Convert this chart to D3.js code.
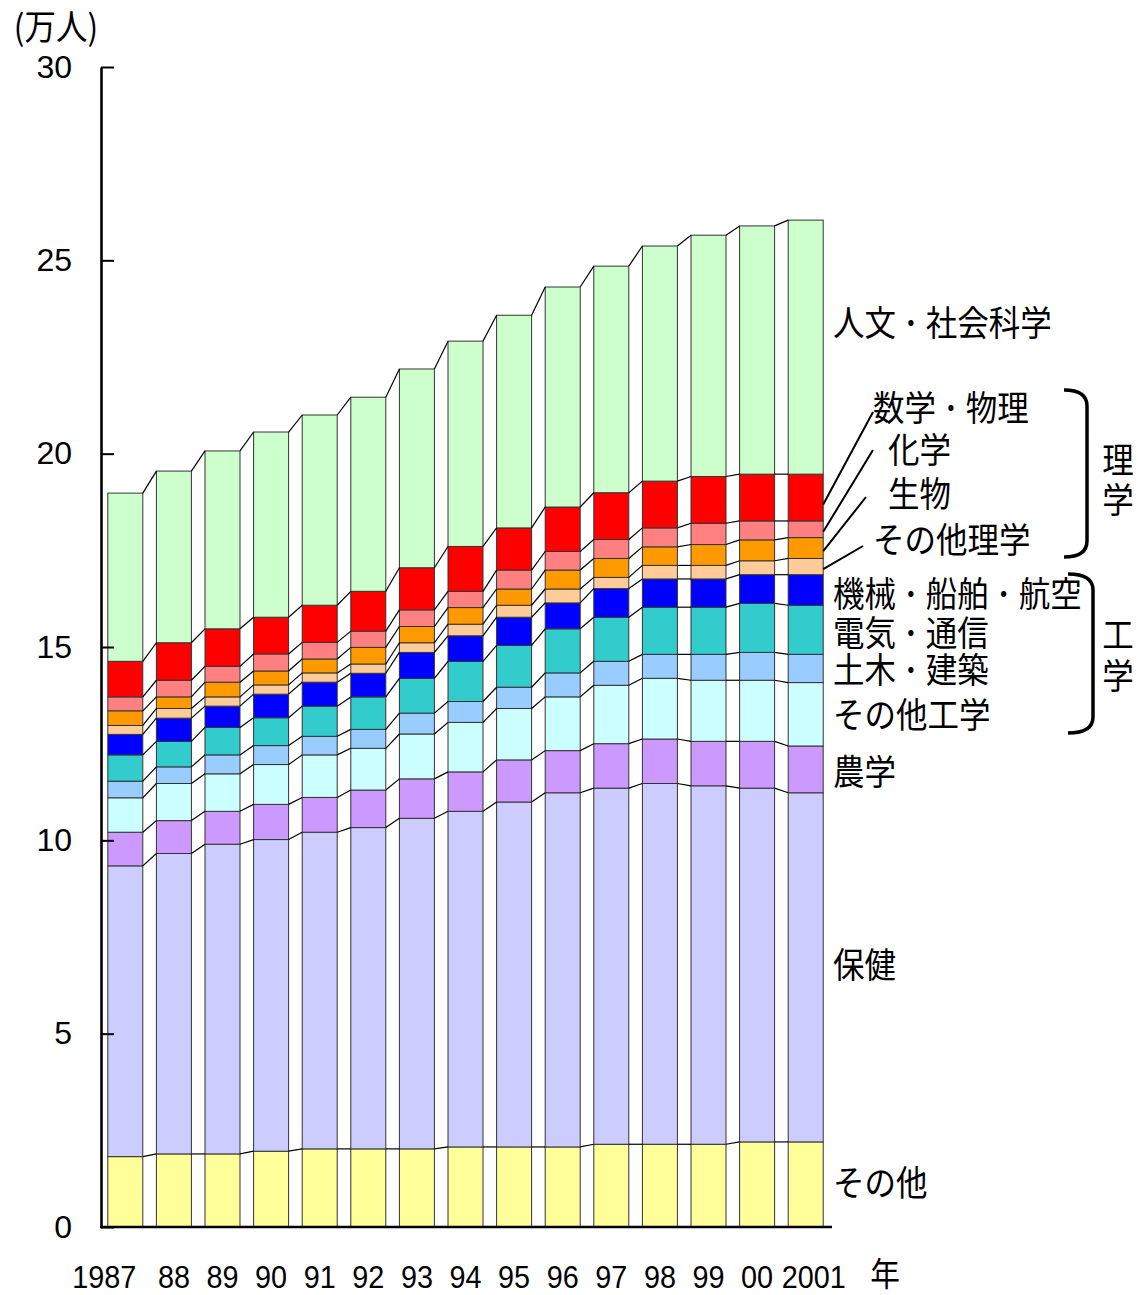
<!DOCTYPE html>
<html>
<head>
<meta charset="utf-8">
<script src="https://cdn.jsdelivr.net/npm/d3@7"></script>
<style>
  html, body { margin: 0; padding: 0; background: #fff; }
  svg { display: block; }
  .num { font-family: "Liberation Sans", Arial, sans-serif; fill: #000; }
  .jp { font-family: "Noto Sans CJK JP", "Liberation Sans", sans-serif; fill: #000; white-space: pre; }
</style>
</head>
<body>
<div id="chart"></div>
<script>
var years = ['1987', '88', '89', '90', '91', '92', '93', '94', '95', '96', '97', '98', '99', '00', '2001'];

// 万人, bottom to top
var sonota        = [1.82, 1.89, 1.89, 1.96, 2.02, 2.02, 2.02, 2.07, 2.07, 2.07, 2.14, 2.14, 2.14, 2.20, 2.20];
var hoken         = [7.52, 7.77, 8.01, 8.06, 8.19, 8.31, 8.55, 8.68, 8.92, 9.16, 9.21, 9.33, 9.27, 9.15, 9.03];
var nougaku       = [0.87, 0.85, 0.85, 0.91, 0.90, 0.97, 1.02, 1.02, 1.09, 1.09, 1.15, 1.15, 1.15, 1.21, 1.21];
var sonotaKougaku = [0.89, 0.96, 0.97, 1.03, 1.10, 1.08, 1.16, 1.28, 1.33, 1.39, 1.51, 1.57, 1.58, 1.58, 1.64];
var doboku        = [0.43, 0.43, 0.49, 0.49, 0.48, 0.49, 0.54, 0.54, 0.55, 0.62, 0.62, 0.62, 0.67, 0.72, 0.73];
var denki         = [0.68, 0.66, 0.71, 0.72, 0.78, 0.84, 0.90, 1.04, 1.08, 1.14, 1.14, 1.22, 1.22, 1.27, 1.27];
var kikai         = [0.53, 0.60, 0.55, 0.61, 0.62, 0.61, 0.67, 0.66, 0.73, 0.67, 0.74, 0.73, 0.73, 0.74, 0.79];
var sonotaRigaku  = [0.23, 0.25, 0.24, 0.24, 0.24, 0.24, 0.25, 0.30, 0.31, 0.36, 0.29, 0.35, 0.35, 0.36, 0.42];
var seibutsu      = [0.38, 0.30, 0.38, 0.36, 0.36, 0.43, 0.42, 0.43, 0.42, 0.49, 0.49, 0.48, 0.54, 0.54, 0.54];
var kagaku        = [0.36, 0.43, 0.41, 0.44, 0.43, 0.42, 0.43, 0.42, 0.49, 0.48, 0.49, 0.49, 0.55, 0.49, 0.43];
var suugaku       = [0.92, 0.97, 0.97, 0.95, 0.96, 1.03, 1.09, 1.16, 1.09, 1.15, 1.21, 1.21, 1.21, 1.21, 1.21];
var jinbun        = [4.35, 4.44, 4.60, 4.79, 4.92, 5.02, 5.14, 5.31, 5.50, 5.69, 5.86, 6.08, 6.24, 6.42, 6.57];

var seriesKeys = ['sonota', 'hoken', 'nougaku', 'sonotaKougaku', 'doboku', 'denki', 'kikai',
                  'sonotaRigaku', 'seibutsu', 'kagaku', 'suugaku', 'jinbun'];
var seriesValues = [sonota, hoken, nougaku, sonotaKougaku, doboku, denki, kikai,
                    sonotaRigaku, seibutsu, kagaku, suugaku, jinbun];
var seriesColors = ['#FFFF99', '#CCCCFF', '#CC99FF', '#CCFFFF', '#99CCFF', '#33CCCC', '#0000FF',
                    '#FFCC99', '#FF9900', '#FF8080', '#FF0000', '#CCFFCC'];

var yTicks = [0, 5, 10, 15, 20, 25, 30];

var width = 1138;
var height = 1295;

var rows = years.map(function(y, i) {
  var r = { year: y };
  seriesKeys.forEach(function(k, j) { r[k] = seriesValues[j][i]; });
  return r;
});

var stacked = d3.stack().keys(seriesKeys)(rows);

var x = d3.scaleBand().domain(years).range([101, 830]).paddingInner(0.28).paddingOuter(0.14);
var y = d3.scaleLinear().domain([0, 30]).range([1227, 67]);
var bw = x.bandwidth();

var svg = d3.select('#chart').append('svg')
  .attr('width', width)
  .attr('height', height);

// bars
var layer = svg.append('g').selectAll('g')
  .data(stacked)
  .enter().append('g')
  .attr('fill', function(d, i) { return seriesColors[i]; });

layer.selectAll('rect')
  .data(function(d) { return d; })
  .enter().append('rect')
  .attr('x', function(d) { return x(d.data.year); })
  .attr('y', function(d) { return y(d[1]); })
  .attr('width', bw)
  .attr('height', function(d) { return y(d[0]) - y(d[1]); })
  .attr('stroke', '#333')
  .attr('stroke-width', 1);

// connector lines between neighbouring bars
var links = svg.append('g').attr('stroke', '#000').attr('stroke-width', 1.2);
stacked.forEach(function(s) {
  for (var i = 0; i < s.length - 1; i++) {
    links.append('line')
      .attr('x1', x(years[i]) + bw)
      .attr('y1', y(s[i][1]))
      .attr('x2', x(years[i + 1]))
      .attr('y2', y(s[i + 1][1]));
  }
});

// y axis, ticks pointing inward
var yAxis = svg.append('g')
  .attr('transform', 'translate(101,0)')
  .call(d3.axisLeft(y).tickValues(yTicks).tickSizeInner(-13).tickSizeOuter(0).tickPadding(29));
yAxis.select('.domain').attr('stroke', '#000').attr('stroke-width', 2.6);
yAxis.selectAll('.tick line').attr('stroke', '#000').attr('stroke-width', 2);
yAxis.selectAll('.tick text')
  .attr('class', 'num')
  .attr('font-size', 32)
  .attr('fill', '#000');

// x baseline
svg.append('line')
  .attr('x1', 100).attr('x2', 832)
  .attr('y1', y(0)).attr('y2', y(0))
  .attr('stroke', '#000').attr('stroke-width', 2.6);

// unit
svg.append('text')
  .attr('class', 'jp')
  .attr('font-size', 35)
  .attr('text-anchor', 'middle')
  .attr('transform', 'translate(56,40) scale(0.9,1)')
  .text('(万人)');

// x labels
svg.append('g').selectAll('text')
  .data(years)
  .enter().append('text')
  .attr('class', 'num')
  .attr('font-size', 32)
  .attr('text-anchor', function(d, i) {
    if (i === 0) return 'end';
    if (i === years.length - 1) return 'start';
    return 'middle';
  })
  .attr('transform', function(d, i) {
    var cx = x(d) + bw / 2;
    if (i === 0) cx += 11;
    if (i === years.length - 1) cx -= 24;
    return 'translate(' + cx + ',1288) scale(0.9,1)';
  })
  .text(function(d) { return d; });

svg.append('text')
  .attr('class', 'jp')
  .attr('font-size', 33)
  .attr('text-anchor', 'middle')
  .attr('transform', 'translate(885,1286) scale(0.9,1)')
  .text('年');

// category labels on the right
var labelLayout = [
  { text: '人文・社会科学', x: 833, y: 321 },
  { text: '数学・物理', x: 873, y: 406 },
  { text: '化学', x: 888, y: 448 },
  { text: '生物', x: 888, y: 492 },
  { text: 'その他理学', x: 873, y: 538 },
  { text: '機械・船舶・航空', x: 833, y: 592 },
  { text: '電気・通信', x: 833, y: 631 },
  { text: '土木・建築', x: 833, y: 668 },
  { text: 'その他工学', x: 833, y: 713 },
  { text: '農学', x: 833, y: 770 },
  { text: '保健', x: 833, y: 963 },
  { text: 'その他', x: 833, y: 1181 }
];

// the separator dot is narrower in the original: half-width dot padded with spaces
svg.append('g').selectAll('text')
  .data(labelLayout)
  .enter().append('text')
  .attr('class', 'jp')
  .attr('font-size', 35)
  .attr('dominant-baseline', 'central')
  .attr('transform', function(d) { return 'translate(' + d.x + ',' + d.y + ') scale(0.9,1)'; })
  .text(function(d) { return d.text.split('・').join(' ･ '); });

// leader lines for the 理学 group, pointing at the last bar
var last = years.length - 1;
var xEdge = x(years[last]) + bw;
var leaders = [
  { key: 'suugaku', x: 873, y: 412 },
  { key: 'kagaku', x: 873, y: 450 },
  { key: 'seibutsu', x: 866, y: 497 },
  { key: 'sonotaRigaku', x: 863, y: 546 }
];
leaders.forEach(function(l) {
  var s = stacked[seriesKeys.indexOf(l.key)][last];
  svg.append('line')
    .attr('x1', l.x).attr('y1', l.y)
    .attr('x2', xEdge).attr('y2', y(s[0] + 0.35 * (s[1] - s[0])))
    .attr('stroke', '#000').attr('stroke-width', 2);
});

// group brackets
svg.append('path')
  .attr('d', 'M1064,390 Q1087,390 1087,406 L1087,541 Q1087,557 1064,557')
  .attr('fill', 'none').attr('stroke', '#000').attr('stroke-width', 3.5);
svg.append('path')
  .attr('d', 'M1068,574 Q1093,574 1093,590 L1093,717 Q1093,733 1068,733')
  .attr('fill', 'none').attr('stroke', '#000').attr('stroke-width', 3.5);

var groupLabels = [
  { text: '理', y: 458 }, { text: '学', y: 498 },
  { text: '工', y: 633 }, { text: '学', y: 674 }
];
svg.append('g').selectAll('text')
  .data(groupLabels)
  .enter().append('text')
  .attr('class', 'jp')
  .attr('font-size', 35)
  .attr('text-anchor', 'middle')
  .attr('dominant-baseline', 'central')
  .attr('transform', function(d) { return 'translate(1118,' + d.y + ') scale(0.9,1)'; })
  .text(function(d) { return d.text; });
</script>
</body>
</html>
